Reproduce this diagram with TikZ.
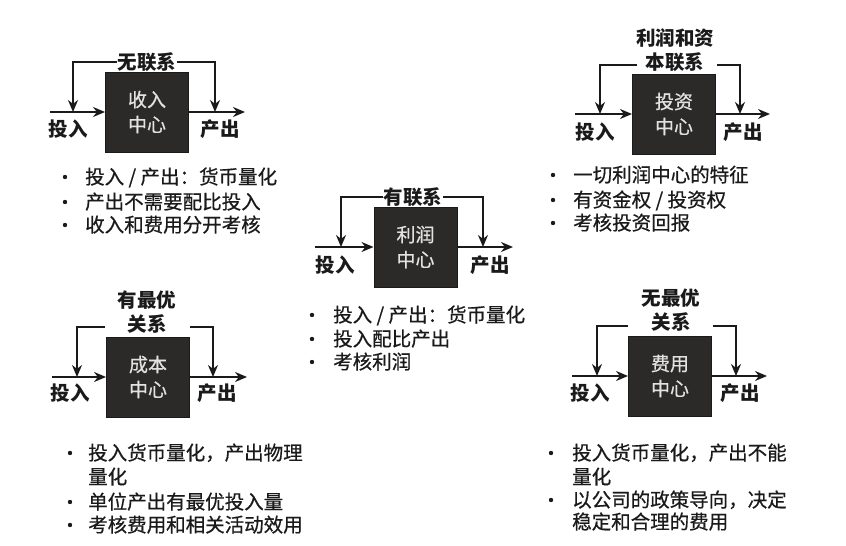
\documentclass[tikz,border=0pt]{standalone}
\usepackage{fontspec}
\newfontfamily\cjk{Noto Sans CJK SC}
\newfontfamily\cjkm[FakeBold=0.6]{Noto Sans CJK SC}
\usetikzlibrary{arrows.meta}
\definecolor{boxfill}{HTML}{2B2A28}
\definecolor{boxtext}{HTML}{E2E2E2}
\definecolor{ink}{HTML}{1A1A1A}
\begin{document}
\begin{tikzpicture}[x=1pt,y=-1pt,
  ctr/.style={draw=ink, line width=1pt, fill=boxfill, minimum width=83pt, minimum height=80pt, inner sep=0pt, text=boxtext, font=\cjkm\fontsize{19}{25}\selectfont, align=center},
  flow/.style={draw=ink, line width=1.7pt, -{Stealth[length=12pt,width=10pt]}},
  lab/.style={font=\cjk\bfseries\fontsize{19.5}{24}\selectfont, text=ink, inner sep=1pt, align=center},
  bul/.style={anchor=base west, font=\cjkm\fontsize{19.5}{24}\selectfont, text=ink, inner sep=0pt},
  dot/.style={fill=ink}
  ]
\fill[white] (0,0) rectangle (846,546);
\useasboundingbox (0,0) rectangle (846,546);

% ---------- Unit 1: 收入中心 ----------
\node[ctr] (c1) at (147,112) {收入\\中心};
\coordinate (c1in) at (50,112);
\coordinate (c1out) at (245,112);
\draw[flow] (c1in) -- (c1.west);
\draw[flow] (c1.east) -- (c1out);
\node[lab, fill=white] (l1) at (147,62) {无联系};
\coordinate (f1a) at (73,62);  \coordinate (p1a) at (73,112);
\coordinate (f1b) at (215,62); \coordinate (p1b) at (215,112);
\draw[flow] (l1.west) -- (f1a) -- (p1a);
\draw[flow] (l1.east) -- (f1b) -- (p1b);
\node[lab] (t1in) at (68,129) {投入};
\node[lab] (t1out) at (220,129) {产出};
\fill[dot] (65,177) circle (2.2);
\fill[dot] (65,202) circle (2.2);
\fill[dot] (65,225) circle (2.2);
\node[bul] (b1a) at (85,184) {投入 / 产出：货币量化};
\node[bul] (b1b) at (85,209) {产出不需要配比投入};
\node[bul] (b1c) at (85,232) {收入和费用分开考核};

% ---------- Unit 2: 投资中心 ----------
\node[ctr] (c2) at (674,114) {投资\\中心};
\coordinate (c2in) at (575,114);
\coordinate (c2out) at (770,114);
\draw[flow] (c2in) -- (c2.west);
\draw[flow] (c2.east) -- (c2out);
\node[lab] (l2) at (675,50) {利润和资\\本联系};
\coordinate (g2a) at (637,65); \coordinate (f2a) at (600,65); \coordinate (p2a) at (600,114);
\coordinate (g2b) at (717,65); \coordinate (f2b) at (740,65); \coordinate (p2b) at (740,114);
\draw[flow] (g2a) -- (f2a) -- (p2a);
\draw[flow] (g2b) -- (f2b) -- (p2b);
\node[lab] (t2in) at (595,132) {投入};
\node[lab] (t2out) at (743,132) {产出};
\fill[dot] (553,175) circle (2.2);
\fill[dot] (553,200) circle (2.2);
\fill[dot] (553,223) circle (2.2);
\node[bul] (b2a) at (573,182) {一切利润中心的特征};
\node[bul] (b2b) at (573,207) {有资金权 / 投资权};
\node[bul] (b2c) at (573,230) {考核投资回报};

% ---------- Unit 3: 利润中心 ----------
\node[ctr] (c3) at (415.5,247) {利润\\中心};
\coordinate (c3in) at (315,247);
\coordinate (c3out) at (513,247);
\draw[flow] (c3in) -- (c3.west);
\draw[flow] (c3.east) -- (c3out);
\node[lab, fill=white] (l3) at (413,197) {有联系};
\coordinate (f3a) at (341,197); \coordinate (p3a) at (341,247);
\coordinate (f3b) at (483,197); \coordinate (p3b) at (483,247);
\draw[flow] (l3.west) -- (f3a) -- (p3a);
\draw[flow] (l3.east) -- (f3b) -- (p3b);
\node[lab] (t3in) at (335,265) {投入};
\node[lab] (t3out) at (490,265) {产出};
\fill[dot] (312,315) circle (2.2);
\fill[dot] (312,339) circle (2.2);
\fill[dot] (312,362) circle (2.2);
\node[bul] (b3a) at (333,322) {投入 / 产出：货币量化};
\node[bul] (b3b) at (333,346) {投入配比产出};
\node[bul] (b3c) at (333,369) {考核利润};

% ---------- Unit 4: 成本中心 ----------
\node[ctr] (c4) at (148,377) {成本\\中心};
\coordinate (c4in) at (52,377);
\coordinate (c4out) at (247,377);
\draw[flow] (c4in) -- (c4.west);
\draw[flow] (c4.east) -- (c4out);
\node[lab] (l4) at (147,312) {有最优\\关系};
\coordinate (g4a) at (105,327); \coordinate (f4a) at (77,327); \coordinate (p4a) at (77,377);
\coordinate (g4b) at (190,327); \coordinate (f4b) at (213,327); \coordinate (p4b) at (213,377);
\draw[flow] (g4a) -- (f4a) -- (p4a);
\draw[flow] (g4b) -- (f4b) -- (p4b);
\node[lab] (t4in) at (70,393) {投入};
\node[lab] (t4out) at (217,393) {产出};
\fill[dot] (70,453) circle (2.2);
\fill[dot] (70,502) circle (2.2);
\fill[dot] (70,525) circle (2.2);
\node[bul] (b4a) at (88,460) {投入货币量化，产出物理};
\node[bul] (b4a2) at (88,484) {量化};
\node[bul] (b4b) at (88,509) {单位产出有最优投入量};
\node[bul] (b4c) at (88,532) {考核费用和相关活动效用};

% ---------- Unit 5: 费用中心 ----------
\node[ctr] (c5) at (670,376) {费用\\中心};
\coordinate (c5in) at (572,376);
\coordinate (c5out) at (767,376);
\draw[flow] (c5in) -- (c5.west);
\draw[flow] (c5.east) -- (c5out);
\node[lab] (l5) at (671,310) {无最优\\关系};
\coordinate (g5a) at (628,326); \coordinate (f5a) at (597,326); \coordinate (p5a) at (597,376);
\coordinate (g5b) at (713,326); \coordinate (f5b) at (736,326); \coordinate (p5b) at (736,376);
\draw[flow] (g5a) -- (f5a) -- (p5a);
\draw[flow] (g5b) -- (f5b) -- (p5b);
\node[lab] (t5in) at (590,393) {投入};
\node[lab] (t5out) at (740,393) {产出};
\fill[dot] (551,453) circle (2.2);
\fill[dot] (551,500) circle (2.2);
\node[bul] (b5a) at (572,460) {投入货币量化，产出不能};
\node[bul] (b5a2) at (572,484) {量化};
\node[bul] (b5b) at (572,507) {以公司的政策导向，决定};
\node[bul] (b5b2) at (572,529) {稳定和合理的费用};
\end{tikzpicture}
\end{document}
